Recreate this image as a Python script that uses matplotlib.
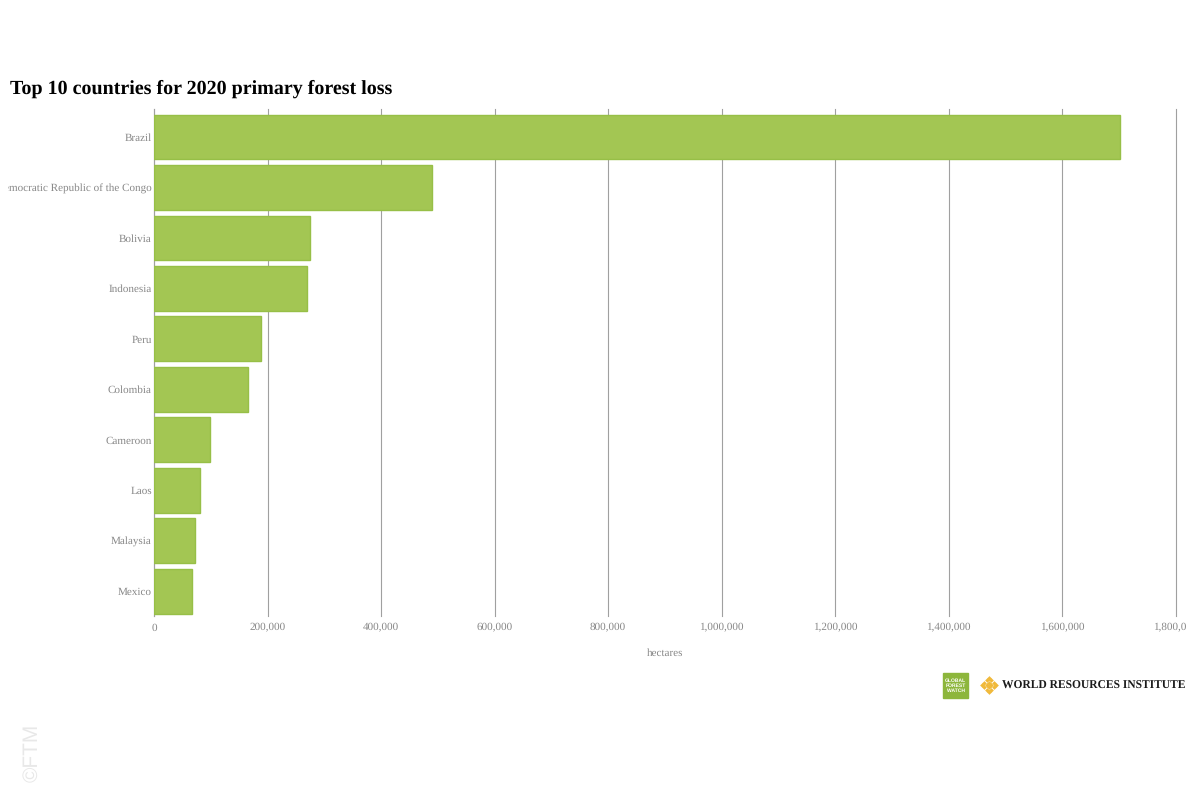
import numpy as np
import matplotlib.pyplot as plt
from matplotlib.lines import Line2D
from matplotlib.patches import Rectangle
from matplotlib.transforms import Bbox

def plot_forest_loss(countries, hectares):
    plt.figure(figsize=(12, 8), dpi=100)
    plt.rcParams['font.family'] = 'Liberation Serif'
    plt.rcParams['text.hinting'] = 'none'
    plt.axes([154 / 1200, 184 / 800, 1021.5 / 1200, 507 / 800])

    y = np.arange(len(countries))
    plt.barh(y, hectares, height=0.89, color="#a3c653", edgecolor="#97bf47", linewidth=1, zorder=3)

    plt.xlim(0, 1800000)
    plt.ylim(9.486, -0.554)
    plt.grid(axis="x", color="#a0a0a0", linewidth=0.8, zorder=1, clip_on=False)
    plt.xticks(np.arange(0, 2000000, 200000), [f"{v:,}" for v in range(0, 2000000, 200000)])
    plt.yticks(y, countries)
    plt.tick_params(axis="both", length=0, labelsize=8.05, labelcolor="#888888")
    plt.tick_params(axis="x", pad=5)
    plt.tick_params(axis="y", pad=1.5)
    for side in ["top", "right", "bottom"]:
        plt.gca().spines[side].set_visible(False)
    plt.gca().spines["left"].set_color("#a0a0a0")

    # Labels run past the image area in the original
    fig = plt.gcf()
    clip = Bbox([[8, 0], [1186, 800]])
    for label in plt.gca().get_xticklabels() + plt.gca().get_yticklabels():
        label.set_clip_box(clip)
        label.set_clip_on(True)

    plt.xlabel("hectares", fontsize=8.05, color="#888888", labelpad=11)
    fig.text(10 / 1200, 1 - 89 / 800, "Top 10 countries for 2020 primary forest loss",
             fontsize=14.4, fontweight="bold", color="black", va="center")
    return fig

def add_logos(fig):
    fig.add_artist(Rectangle((943 / 1200, 1 - 698 / 800), 25 / 1200, 25 / 800,
                             transform=fig.transFigure, color="#8db63c"))
    fig.text(955.5 / 1200, 1 - 685.5 / 800, "GLOBAL\nFOREST\nWATCH", fontsize=3.6, fontweight="bold",
             family="Liberation Sans", color="white", ha="center", va="center", linespacing=1.1)
    for i in range(4):
        for j in range(4):
            fig.add_artist(Line2D([(989 + (i - j) * 2.3) / 1200], [1 - (685 + (i + j - 3) * 2.3) / 800],
                                  marker="D", markersize=2.4, color="#f0b93a", markeredgewidth=0,
                                  transform=fig.transFigure))
    fig.text(1002 / 1200, 1 - 685.5 / 800, "WORLD RESOURCES INSTITUTE", fontsize=8.3,
             color="#1a1a1a", va="center", ha="left", fontweight="bold")
    fig.text(32 / 1200, 1 - 753 / 800, "©FTM", fontsize=15, rotation=90, family="Liberation Sans",
             color="#e8e8e8", ha="center", va="center")

if __name__ == "__main__":
    countries = ["Brazil", "Democratic Republic of the Congo", "Bolivia", "Indonesia", "Peru",
                 "Colombia", "Cameroon", "Laos", "Malaysia", "Mexico"]
    hectares = [1703000, 490000, 275000, 269000, 189000, 166000, 99000, 81000, 72000, 67000]

    fig = plot_forest_loss(countries, hectares)
    add_logos(fig)
    plt.savefig("out.png", dpi=100)
